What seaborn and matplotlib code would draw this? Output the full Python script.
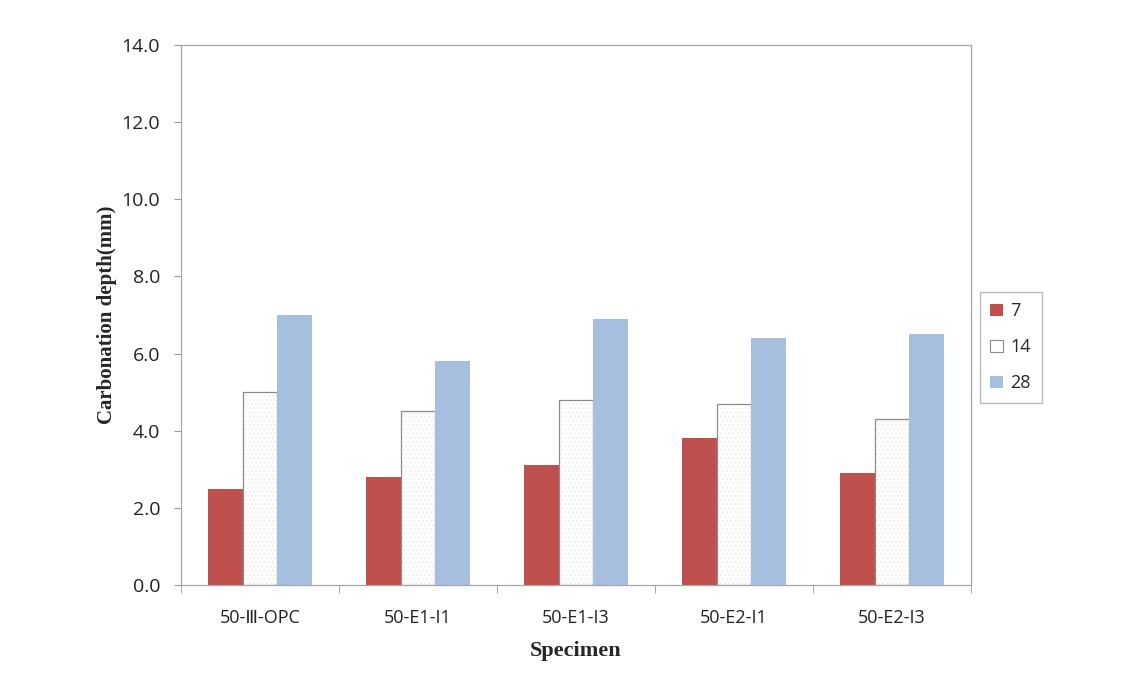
import numpy as np
import pandas as pd
import matplotlib
matplotlib.use("Agg")
import matplotlib.pyplot as plt
import seaborn as sns
from matplotlib.ticker import FixedLocator

specimens = ["50-\u2162-OPC", "50-E1-I1", "50-E1-I3", "50-E2-I1", "50-E2-I3"]
ages = ["7", "14", "28"]
depth_7 = [2.5, 2.8, 3.1, 3.8, 2.9]
depth_14 = [5.0, 4.5, 4.8, 4.7, 4.3]
depth_28 = [7.0, 5.8, 6.9, 6.4, 6.5]
yticks = [0, 2, 4, 6, 8, 10, 12, 14]

rows = []
for age, vals in zip(ages, [depth_7, depth_14, depth_28]):
    for s, v in zip(specimens, vals):
        rows.append({"Specimen": s, "Age": age, "Depth": v})
df = pd.DataFrame(rows)

sns.set_style("white")
plt.rcParams["font.family"] = ["Open Sans", "DejaVu Sans"]

fig = plt.figure(figsize=(11.29, 6.76), dpi=100)
ax = fig.add_axes([0.1603, 0.1346, 0.6997, 0.7988])

palette = {"7": "#C0504D", "14": "#FFFFFF", "28": "#A7BFDE"}
sns.barplot(data=df, x="Specimen", y="Depth", hue="Age", hue_order=ages,
            order=specimens, palette=palette, width=0.66, saturation=1,
            ax=ax, legend=True, errorbar=None)

for patch in ax.patches:
    fc = patch.get_facecolor()
    if tuple(fc[:3]) == (1.0, 1.0, 1.0):
        patch.set_edgecolor("#8C8C8C")
        patch.set_linewidth(0.9)
        patch.set_hatch("....")
        patch._hatch_color = matplotlib.colors.to_rgba("#F0F0F0")
    else:
        patch.set_edgecolor("none")

ax.set_ylim(0, 14)
ax.set_xlim(-0.5, len(specimens) - 0.5)
ax.yaxis.set_major_locator(FixedLocator(yticks))
ax.set_yticklabels([f"{t:.1f}" for t in yticks], fontsize=14, color="#222222")
ax.tick_params(axis="x", which="major", length=0, labelsize=13, pad=17, colors="#222222")
ax.set_xticks(np.arange(-0.5, len(specimens), 1.0), minor=True)
ax.tick_params(axis="x", which="minor", length=6, color="#9A9A9A", direction="out", bottom=True)
ax.tick_params(axis="y", which="major", length=5, color="#9A9A9A", direction="out", left=True, pad=10)

for side in ["left", "right", "top", "bottom"]:
    ax.spines[side].set_visible(True)
    ax.spines[side].set_color("#A6A6A6")
    ax.spines[side].set_linewidth(0.9)

ax.set_xlabel("Specimen", fontsize=16, fontweight="bold",
              family=["Liberation Serif", "DejaVu Serif"], labelpad=10)
ax.set_ylabel("Carbonation depth(mm)", fontsize=15, fontweight="bold",
              family=["Liberation Serif", "DejaVu Serif"], labelpad=3)

leg = ax.legend(loc="center left", bbox_to_anchor=(1.004, 0.44), frameon=True,
                fontsize=13, handlelength=0.7, handleheight=0.7, borderpad=0.6,
                labelspacing=1.0, handletextpad=0.4, borderaxespad=0.3,
                fancybox=False)
leg.get_frame().set_edgecolor("#A6A6A6")
leg.get_frame().set_linewidth(0.9)
for h in leg.legend_handles:
    h.set_hatch(None)
    if tuple(h.get_facecolor()[:3]) == (1.0, 1.0, 1.0):
        h.set_edgecolor("#8C8C8C")
        h.set_linewidth(0.8)
    else:
        h.set_edgecolor("none")

fig.savefig("out.png", dpi=100)
